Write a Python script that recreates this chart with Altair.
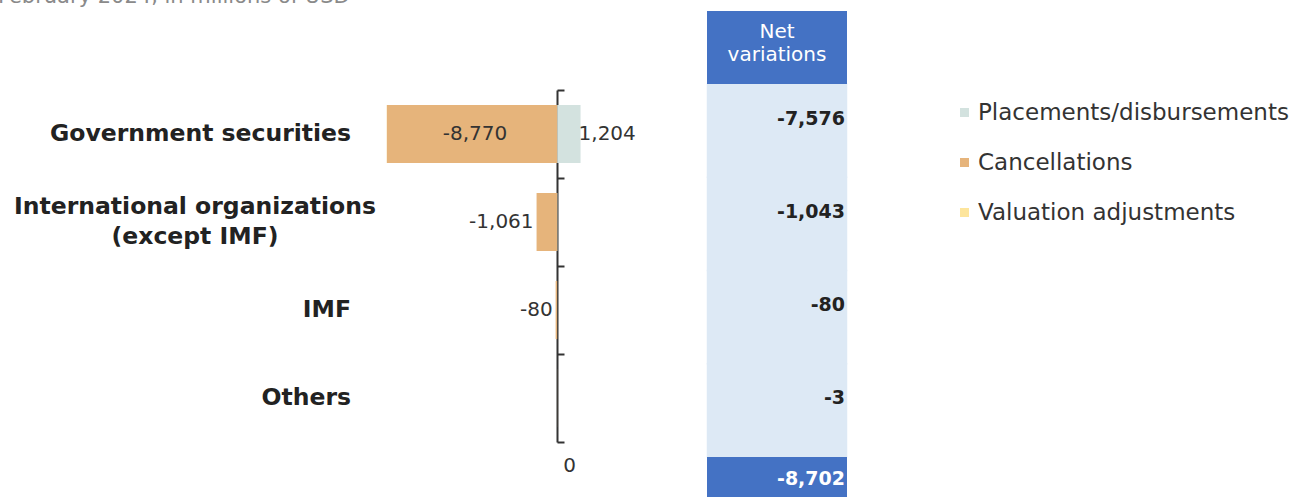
import altair as alt
import pandas as pd

# ---------------- data ----------------
categories = ["Government securities", "International organizations (except IMF)", "IMF", "Others"]
category_labels = ["Government securities", "International organizations\n(except IMF)", "IMF", "Others"]
series = ["Placements/disbursements", "Cancellations", "Valuation adjustments"]
placements = [1204, 18, 0, 0]
cancellations = [-8770, -1061, -80, -3]
valuation = [-10, 0, 0, 0]
net_variations = [-7576, -1043, -80, -3]
total_net = -8702
header_label = "Net\nvariations"
total_key = "Total"
top_note = "February 2024, in millions of USD"

colors = ["#d3e2df", "#e6b47b", "#fde59c"]
FONT = "DejaVu Sans"

rows = []
for i, c in enumerate(categories):
    for j, (s, vals) in enumerate(zip(series, [placements, cancellations, valuation])):
        rows.append({"category": c, "series": s, "value": vals[i], "order": j})
df = pd.DataFrame(rows)

lab_df = pd.DataFrame({
    "category": categories,
    "label": category_labels,
    "multi": ["\n" in s for s in category_labels],
})

net_df = pd.DataFrame({"category": categories + [total_key],
                       "net": net_variations + [total_net],
                       "kind": ["row"] * len(categories) + ["total"]})
head_df = pd.DataFrame({"label": [header_label]})
note_df = pd.DataFrame({"label": [top_note]})

# ---------------- scales ----------------
xscale = alt.Scale(domain=[-10000, 2000], range=[363, 596], nice=False, zero=False)
yscale = alt.Scale(domain=categories, range=[90, 442], paddingInner=0, paddingOuter=0)
yaxis = alt.Axis(orient="right", offset=-742, labels=False, title=None, tickBand="extent",
                 tickSize=7, tickWidth=2, tickColor="#333333", domainColor="#333333",
                 domainWidth=2, grid=False)
xaxis = alt.Axis(values=[0], orient="bottom", offset=-42, ticks=False, domain=False, grid=False,
                 labelOffset=12, labelFontSize=20, labelFont=FONT, labelColor="#333333",
                 labelPadding=0, title=None)

Y = alt.Y("category:N", sort=categories, scale=yscale, axis=yaxis, title=None)

fmt = "replace(format(datum.value, ','), '\u2212', '-')"

bars = alt.Chart(df).mark_bar(height=alt.RelativeBandSize(0.66)).encode(
    x=alt.X("value:Q", stack="zero", scale=xscale, axis=xaxis, title=None),
    y=Y,
    color=alt.Color("series:N", scale=alt.Scale(domain=series, range=colors),
                    legend=alt.Legend(orient="none", legendX=953, legendY=101, title=None,
                                      symbolType="square", symbolSize=81, symbolStrokeWidth=0,
                                      labelFontSize=23, labelFont=FONT, labelColor="#333333",
                                      labelLimit=0, labelOffset=2, rowPadding=26, padding=0)),
    order=alt.Order("order:Q"),
)

base_lab = alt.Chart(df).transform_filter("abs(datum.value) >= 50").transform_calculate(label=fmt)

inside = base_lab.transform_filter("abs(datum.value) >= 3000").transform_calculate(
    mid="datum.value / 2"
).mark_text(align="center", baseline="middle", dx=3, fontSize=20, font=FONT, color="#333333").encode(
    x=alt.X("mid:Q", scale=xscale, axis=xaxis, title=None), y=Y, text="label:N"
)

out_neg = base_lab.transform_filter("datum.value < 0 && abs(datum.value) < 3000").mark_text(
    align="right", baseline="middle", dx=-3, fontSize=20, font=FONT, color="#333333"
).encode(x=alt.X("value:Q", scale=xscale, axis=xaxis, title=None), y=Y, text="label:N")

out_pos = base_lab.transform_filter("datum.value > 0").mark_text(
    align="left", baseline="middle", dx=-2, fontSize=20, font=FONT, color="#333333"
).encode(x=alt.X("value:Q", scale=xscale, axis=xaxis, title=None), y=Y, text="label:N")

cat_single = alt.Chart(lab_df).transform_filter("!datum.multi").mark_text(
    align="right", baseline="middle", fontSize=23.5, fontWeight="bold", font=FONT, color="#222222"
).encode(x=alt.value(351), y=Y, text="label:N")

cat_multi = alt.Chart(lab_df).transform_filter("datum.multi").mark_text(
    align="center", baseline="middle", fontSize=23.5, fontWeight="bold", font=FONT, color="#222222",
    lineBreak="\n", lineHeight=30, dy=-15
).encode(x=alt.value(195), y=Y, text="label:N")

main = alt.layer(bars, inside, out_neg, out_pos, cat_single, cat_multi)

# ---------------- net variations column ----------------
netscale = alt.Scale(domain=categories + [total_key], range=[84, 550.25], paddingInner=0, paddingOuter=0)
net_sort = categories + [total_key]
NY = alt.Y("category:N", sort=net_sort, scale=netscale, axis=None, title=None)

net_rows = alt.Chart(net_df).transform_filter("datum.kind == 'row'").mark_rect(
    color="#dde9f5", stroke="#dde9f5", strokeWidth=1.5
).encode(x=alt.value(707.5), x2=alt.value(846.5), y=NY)
net_total = alt.Chart(net_df).transform_filter("datum.kind == 'total'").mark_rect(color="#4472c4").encode(
    x=alt.value(707), x2=alt.value(847), y=NY
)
net_text = alt.Chart(net_df).transform_filter("datum.kind == 'row'").transform_calculate(
    label="replace(format(datum.net, ','), '\u2212', '-')"
).mark_text(align="right", baseline="middle", fontSize=19, fontWeight="bold", font=FONT,
            color="#222222").encode(
    x=alt.value(845),
    y=alt.Y("category:N", sort=net_sort, scale=netscale, axis=None, title=None, bandPosition=0.37),
    text="label:N",
)
total_text = alt.Chart(net_df).transform_filter("datum.kind == 'total'").transform_calculate(
    label="replace(format(datum.net, ','), '\u2212', '-')"
).mark_text(align="right", baseline="middle", fontSize=19, fontWeight="bold", font=FONT,
            color="#ffffff").encode(
    x=alt.value(845),
    y=alt.Y("category:N", sort=net_sort, scale=netscale, axis=None, title=None, bandPosition=0.24),
    text="label:N",
)
head_rect = alt.Chart(head_df).mark_rect(color="#4472c4").encode(
    x=alt.value(707), x2=alt.value(847), y=alt.value(11), y2=alt.value(84)
)
head_text = alt.Chart(head_df).mark_text(
    align="center", baseline="middle", fontSize=20, font=FONT, color="#ffffff",
    lineBreak="\n", lineHeight=23
).encode(x=alt.value(777), y=alt.value(32), text="label:N")

net = alt.layer(net_rows, net_total, net_text, total_text, head_rect, head_text)

note = alt.Chart(note_df).mark_text(
    align="left", baseline="alphabetic", fontSize=21, font=FONT, color="#8a8a8a"
).encode(x=alt.value(-2), y=alt.value(3), text="label:N")

chart = alt.layer(main, net, note).resolve_scale(y="independent").properties(
    width=1299, height=497, autosize=alt.AutoSizeParams(type="none"), padding=0
).configure_view(stroke=None)

chart.save("out.html", embed_options={"renderer": "svg", "actions": False})
